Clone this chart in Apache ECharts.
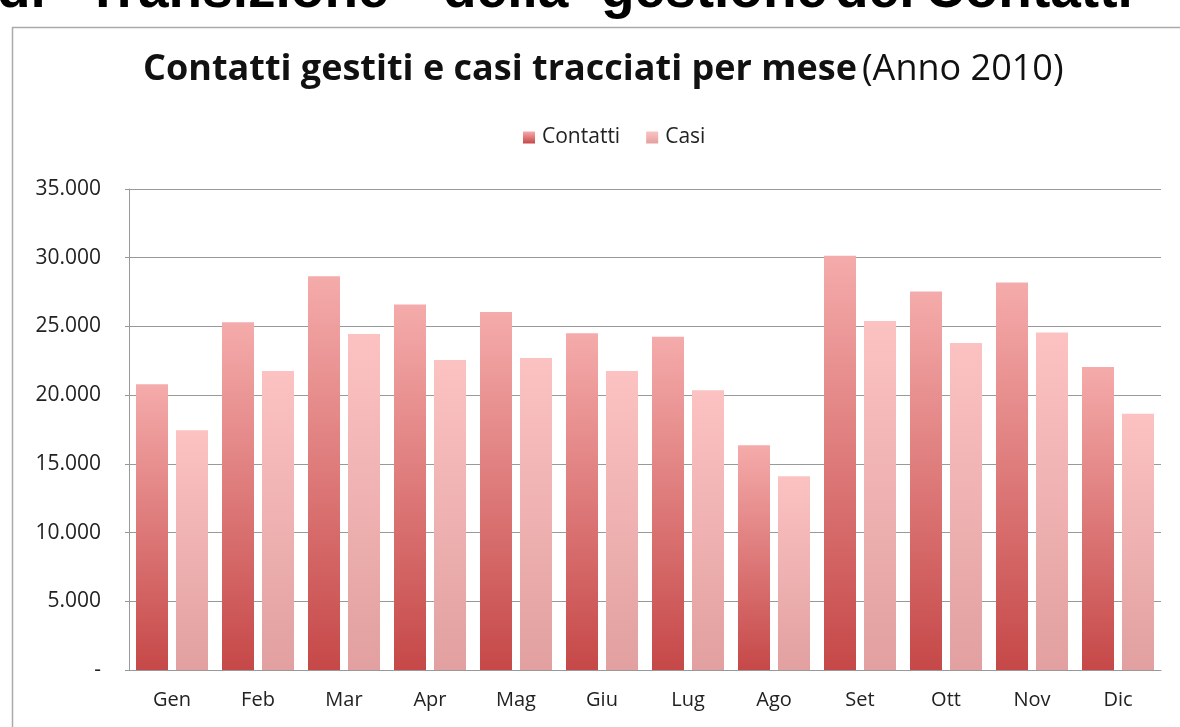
<!DOCTYPE html>
<html>
<head>
<meta charset="utf-8">
<script src="https://cdn.jsdelivr.net/npm/echarts@6/dist/echarts.min.js"></script>
<style>
html,body{margin:0;padding:0;background:#fff;}
#chart{width:1180px;height:727px;}
</style>
</head>
<body>
<div id="chart"></div>
<script>
const months = ['Gen','Feb','Mar','Apr','Mag','Giu','Lug','Ago','Set','Ott','Nov','Dic'];
const contatti = [20800,25300,28650,26600,26050,24500,24250,16350,30150,27550,28200,22050];
const casi = [17450,21750,24450,22550,22700,21750,20350,14100,25400,23800,24550,18650];
const yTicks = [0,5000,10000,15000,20000,25000,30000,35000];
const headerWords = ['di','Transizione','della','gestione','dei','Contatti'];

const FONT = 'Open Sans';
function grad(top, bottom){
  return new echarts.graphic.LinearGradient(0,0,0,1,[{offset:0,color:top},{offset:1,color:bottom}]);
}
function fmt(v){
  if(v===0) return '-';
  return String(v).replace(/\B(?=(\d{3})+(?!\d))/g,'.');
}
const headerX = [-3,86,443,601,835,925];
const headerGraphics = headerWords.map((w,i)=>({
  type:'text', x:headerX[i], y:-36, silent:true,
  style:{text:w,fontFamily:'Liberation Sans',fontWeight:'bold',fontSize:55,fill:'#000',verticalAlign:'top'}
}));
const chart = echarts.init(document.getElementById('chart'), null, {renderer:'canvas'});
chart.setOption({
  backgroundColor:'#fff',
  animation:false,
  title:{
    left:138, top:47,
    text:'{b|Contatti gestiti e casi tracciati per mese} {n|(Anno 2010)}',
    textStyle:{
      rich:{
        b:{fontFamily:FONT,fontWeight:'bold',fontSize:36,color:'#111'},
        n:{fontFamily:FONT,fontWeight:'normal',fontSize:36,color:'#111'}
      }
    }
  },
  legend:{
    top:122, left:518,
    itemWidth:12, itemHeight:12, itemGap:26,
    icon:'rect',
    textStyle:{fontFamily:FONT,fontSize:21,color:'#222',padding:[0,0,0,2]},
    data:['Contatti','Casi']
  },
  grid:{left:129,right:19,top:189,bottom:57,containLabel:false},
  xAxis:{
    type:'category', data:months,
    axisLine:{lineStyle:{color:'#999',width:1}},
    axisTick:{show:false},
    axisLabel:{fontFamily:FONT,fontSize:20,color:'#222',margin:20}
  },
  yAxis:{
    type:'value', min:0, max:35000, interval:5000,
    axisLine:{show:true,lineStyle:{color:'#999'}},
    axisTick:{show:true,length:4,lineStyle:{color:'#999'}},
    splitLine:{lineStyle:{color:'#999',width:1}},
    axisLabel:{fontFamily:FONT,fontSize:21,color:'#222',margin:28,formatter:fmt}
  },
  series:[
    {name:'Contatti',type:'bar',data:contatti,barWidth:32,barGap:'25%',
     itemStyle:{color:grad('#f5abab','#c64848')}},
    {name:'Casi',type:'bar',data:casi,barWidth:32,
     itemStyle:{color:grad('#fcc2c2','#e2a0a0')}}
  ],
  graphic:headerGraphics.concat([
    {type:'rect',shape:{x:0,y:22,width:1180,height:20},style:{fill:'#fff'},silent:true},
    {type:'line',shape:{x1:12,y1:27.5,x2:1180,y2:27.5},style:{stroke:'#aaa',lineWidth:1.5}},
    {type:'line',shape:{x1:12.5,y1:27,x2:12.5,y2:727},style:{stroke:'#aaa',lineWidth:1.5}}
  ])
});
</script>
</body>
</html>
